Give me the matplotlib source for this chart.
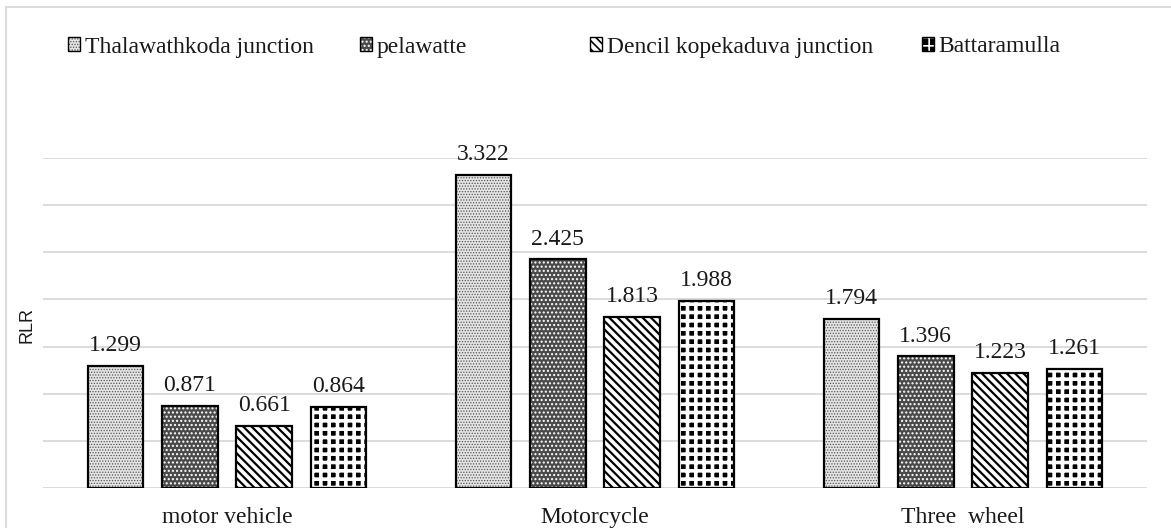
import matplotlib
matplotlib.use("Agg")
import matplotlib.pyplot as plt
import numpy as np
from matplotlib.patches import Rectangle, Patch
from matplotlib.legend_handler import HandlerTuple

# Data
categories = ["motor vehicle", "Motorcycle", "Three  wheel"]
series_names = ["Thalawathkoda junction", "pelawatte",
                "Dencil kopekaduva junction", "Battaramulla"]
thalawathkoda = [1.299, 3.322, 1.794]
pelawatte = [0.871, 2.425, 1.396]
dencil = [0.661, 1.813, 1.223]
battaramulla = [0.864, 1.988, 1.261]
values = [thalawathkoda, pelawatte, dencil, battaramulla]

# pattern styles (face, hatch, hatch colour, hatch linewidth)
styles = [
    ("#e4e4e4", "......", "#555555", 0.6),
    ("#4a4a4a", "....", "white", 1.0),
    ("white", "\\\\\\\\", "black", 1.6),
    ("black", "++", "white", 2.6),
]

plt.rcParams['font.family'] = ['Liberation Serif', 'DejaVu Serif']
fs = 17

fig = plt.figure(figsize=(11.71, 5.28), dpi=100)
ax = fig.add_axes([43 / 1171, 40 / 528, 1104 / 1171, 330 / 528])

x = np.arange(len(categories))
step = 0.202
width = 0.152
offsets = (np.arange(4) - 1.5) * step

for i, vals in enumerate(values):
    face, hatch, hcol, hlw = styles[i]
    plt.rcParams['hatch.linewidth'] = hlw
    plt.rcParams['hatch.color'] = hcol
    ax.bar(x + offsets[i], vals, width, color=face, hatch=hatch,
           edgecolor=hcol, linewidth=0, zorder=2)
    ax.bar(x + offsets[i], vals, width, fill=False, edgecolor="black",
           linewidth=1.6, zorder=3)
    for xi, v in zip(x + offsets[i], vals):
        ax.annotate(f"{v:.3f}", (xi, v), xytext=(0, 7), textcoords="offset points",
                    ha="center", va="bottom", fontsize=fs, color="#1a1a1a")

ax.set_xlim(-0.5, 2.5)
ax.set_ylim(0, 3.5)
ax.set_yticks(np.arange(0, 3.51, 0.5))
ax.set_yticklabels([])
ax.tick_params(axis="y", length=0)
ax.tick_params(axis="x", length=0, pad=14, labelsize=fs, labelcolor="#1a1a1a")
ax.set_xticks(x)
ax.set_xticklabels(categories)
ax.grid(axis="y", color="#d9d9d9", linewidth=1.3, zorder=0)
ax.set_axisbelow(True)
for s in ax.spines.values():
    s.set_visible(False)

fig.text(27 / 1171, 1 - 325 / 528, "RLR", rotation=90, ha="center", va="center",
         fontsize=13, family=["Liberation Sans"], color="#1a1a1a")

# legend, one entry per legend so the entries sit where the reference has them
leg_x = [68, 360, 590, 922]
for i in range(4):
    face, hatch, hcol, hlw = styles[i]
    plt.rcParams['hatch.linewidth'] = min(hlw, 1.2)
    plt.rcParams['hatch.color'] = hcol
    fill_h = Patch(facecolor=face, hatch=hatch, edgecolor=hcol, linewidth=0)
    edge_h = Patch(fill=False, edgecolor="black", linewidth=1.0)
    leg = fig.legend([(fill_h, edge_h)], [series_names[i]], loc="center left",
                     bbox_to_anchor=(leg_x[i] / 1171, 1 - 47 / 528),
                     handler_map={tuple: HandlerTuple(ndivide=1, pad=0)},
                     frameon=False, fontsize=fs, handlelength=0.5, handleheight=0.5,
                     handletextpad=0.2, borderpad=0, borderaxespad=0)
    leg.get_texts()[0].set_color("#1a1a1a")

# outer frame
fig.patches.append(Rectangle((6 / 1171, -0.2), 1.2, 1.2 - 7 / 528, transform=fig.transFigure,
                             fill=False, edgecolor="#d9d9d9", linewidth=1.3))

fig.savefig("out.png", dpi=100)
